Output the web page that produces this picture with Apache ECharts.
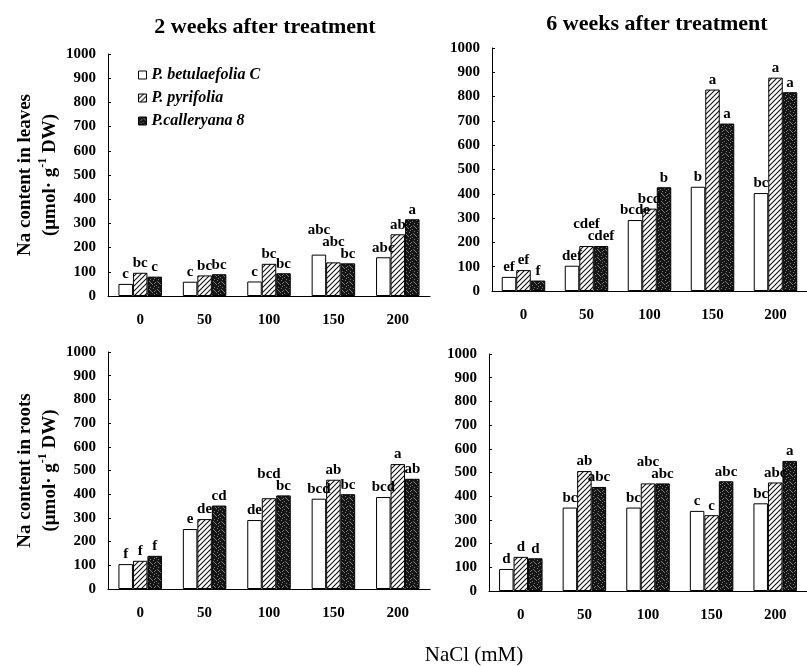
<!DOCTYPE html>
<html>
<head>
<meta charset="utf-8">
<script src="https://cdn.jsdelivr.net/npm/echarts@6/dist/echarts.min.js"></script>
<style>html,body{margin:0;padding:0;background:#fff}#c{width:807px;height:666px}</style>
</head>
<body>
<div id="c"></div>
<script>
// ---- data ----
const categories = ['0', '50', '100', '150', '200'];
const seriesNames = ['P. betulaefolia C', 'P. pyrifolia', 'P.calleryana 8'];

// 2 weeks, leaves
const leaves2w_betulaefolia = [50, 59, 60, 171, 160];
const leaves2w_pyrifolia    = [96, 85, 133, 139, 255];
const leaves2w_calleryana   = [80, 90, 94, 135, 317];
const leaves2w_letters_bet  = ['c', 'c', 'c', 'abc', 'abc'];
const leaves2w_letters_pyr  = ['bc', 'bc', 'bc', 'abc', 'ab'];
const leaves2w_letters_cal  = ['c', 'bc', 'bc', 'bc', 'a'];

// 6 weeks, leaves
const leaves6w_betulaefolia = [58, 104, 292, 429, 403];
const leaves6w_pyrifolia    = [86, 185, 339, 829, 878];
const leaves6w_calleryana   = [43, 185, 427, 689, 818];
const leaves6w_letters_bet  = ['ef', 'def', 'bcde', 'b', 'bc'];
const leaves6w_letters_pyr  = ['ef', 'cdef', 'bcd', 'a', 'a'];
const leaves6w_letters_cal  = ['f', 'cdef', 'b', 'a', 'a'];

// 2 weeks, roots
const roots2w_betulaefolia = [105, 253, 291, 381, 388];
const roots2w_pyrifolia    = [119, 295, 383, 461, 527];
const roots2w_calleryana   = [140, 352, 395, 400, 465];
const roots2w_letters_bet  = ['f', 'e', 'de', 'bcd', 'bcd'];
const roots2w_letters_pyr  = ['f', 'de', 'bcd', 'ab', 'a'];
const roots2w_letters_cal  = ['f', 'cd', 'bc', 'bc', 'ab'];

// 6 weeks, roots
const roots6w_betulaefolia = [93, 352, 352, 338, 370];
const roots6w_pyrifolia    = [144, 506, 454, 320, 458];
const roots6w_calleryana   = [138, 439, 454, 463, 549];
const roots6w_letters_bet  = ['d', 'bc', 'bc', 'c', 'bc'];
const roots6w_letters_pyr  = ['d', 'ab', 'abc', 'c', 'abc'];
const roots6w_letters_cal  = ['d', 'abc', 'abc', 'abc', 'a'];

// ---- patterns ----
function hatchPattern() {
  const s = 5, c = document.createElement('canvas');
  c.width = s; c.height = s;
  const x = c.getContext('2d');
  x.fillStyle = '#fff'; x.fillRect(0, 0, s, s);
  x.strokeStyle = '#111'; x.lineWidth = 1.1;
  x.beginPath();
  x.moveTo(-1, s + 1); x.lineTo(s + 1, -1);
  x.moveTo(-1, 1); x.lineTo(1, -1);
  x.moveTo(s - 1, s + 1); x.lineTo(s + 1, s - 1);
  x.stroke();
  return c;
}
function stipplePattern() {
  const s = 8, c = document.createElement('canvas');
  c.width = s; c.height = s;
  const x = c.getContext('2d');
  x.fillStyle = '#151515'; x.fillRect(0, 0, s, s);
  x.fillStyle = '#7a7a7a';
  const dots = [[1,0],[5,1],[3,2],[7,3],[0,4],[4,5],[2,6],[6,7],[6,2],[2,3]];
  dots.forEach(d => x.fillRect(d[0], d[1], 1, 1));
  return c;
}
const hatchFill = { image: hatchPattern(), repeat: 'repeat' };
const stippleFill = { image: stipplePattern(), repeat: 'repeat' };
const fills = ['#ffffff', hatchFill, stippleFill];

const serif = 'Liberation Serif, Times New Roman, serif';
const BAR_W = 14.5;
const LABEL_FONT = 'bold 15px ' + serif;

const panels = [
  { grid: { left: 108, top: 54, width: 322, height: 242 },
    values: [leaves2w_betulaefolia, leaves2w_pyrifolia, leaves2w_calleryana],
    letters: [leaves2w_letters_bet, leaves2w_letters_pyr, leaves2w_letters_cal],
    yname: 'leaves' },
  { grid: { left: 492, top: 48, width: 322, height: 243 },
    values: [leaves6w_betulaefolia, leaves6w_pyrifolia, leaves6w_calleryana],
    letters: [leaves6w_letters_bet, leaves6w_letters_pyr, leaves6w_letters_cal],
    yname: null },
  { grid: { left: 108, top: 352, width: 322, height: 237 },
    values: [roots2w_betulaefolia, roots2w_pyrifolia, roots2w_calleryana],
    letters: [roots2w_letters_bet, roots2w_letters_pyr, roots2w_letters_cal],
    yname: 'roots' },
  { grid: { left: 489, top: 354, width: 323, height: 237 },
    values: [roots6w_betulaefolia, roots6w_pyrifolia, roots6w_calleryana],
    letters: [roots6w_letters_bet, roots6w_letters_pyr, roots6w_letters_cal],
    yname: null }
];

const grids = [], xAxes = [], yAxes = [], series = [];
panels.forEach((p, gi) => {
  grids.push(Object.assign({ containLabel: false }, p.grid));
  xAxes.push({
    type: 'category', gridIndex: gi, data: categories,
    axisLine: { lineStyle: { color: '#000', width: 1 } },
    axisTick: { inside: true, length: 4, alignWithLabel: false, lineStyle: { color: '#000' } },
    axisLabel: { margin: 17, color: '#000', fontFamily: serif, fontWeight: 'bold', fontSize: 15 }
  });
  const y = {
    type: 'value', gridIndex: gi, min: 0, max: 1000, interval: 100,
    axisLine: { show: true, lineStyle: { color: '#000', width: 1 } },
    axisTick: { show: true, inside: true, length: 3, lineStyle: { color: '#000' } },
    splitLine: { show: false },
    axisLabel: { margin: 12, color: '#000', fontFamily: serif, fontWeight: 'bold', fontSize: 15,
                 formatter: v => String(v) }
  };
  if (p.yname) {
    y.name = '{a|Na content in ' + p.yname + '}\n{a|(\u03bcmol\u00b7 g}{s|-1}{a| DW)}';
    y.nameLocation = 'middle';
    y.nameRotate = 90;
    y.nameGap = 41;
    y.nameTextStyle = {
      color: '#000', fontFamily: serif, fontWeight: 'bold', fontSize: 19, lineHeight: 25,
      rich: {
        a: { fontFamily: serif, fontWeight: 'bold', fontSize: 19, lineHeight: 25, color: '#000' },
        s: { fontFamily: serif, fontWeight: 'bold', fontSize: 12, lineHeight: 25, verticalAlign: 'top', color: '#000', padding: [0, 0, 8, 0] }
      }
    };
  }
  yAxes.push(y);
  for (let k = 0; k < 3; k++) {
    const lt = p.letters[k];
    series.push({
      type: 'bar', name: seriesNames[k], xAxisIndex: gi, yAxisIndex: gi,
      data: p.values[k].slice(), barWidth: BAR_W, barGap: '0%',
      itemStyle: { color: fills[k], borderColor: '#000', borderWidth: 1 },
      label: {
        show: true, position: 'top', distance: 2, color: '#000',
        fontFamily: serif, fontWeight: 'bold', fontSize: 15,
        formatter: (pp) => lt[pp.dataIndex]
      },
      emphasis: { disabled: true },
      animation: false
    });
  }
});

const chart = echarts.init(document.getElementById('c'));
chart.setOption({
  backgroundColor: '#fff',
  animation: false,
  title: [
    { text: '2 weeks after treatment', left: 260, top: 11, textAlign: 'center',
      textStyle: { fontFamily: serif, fontWeight: 'bold', fontSize: 22, color: '#000' } },
    { text: '6 weeks after treatment', left: 652, top: 8, textAlign: 'center',
      textStyle: { fontFamily: serif, fontWeight: 'bold', fontSize: 22, color: '#000' } },
    { text: 'NaCl (mM)', left: 469, top: 640, textAlign: 'center',
      textStyle: { fontFamily: serif, fontWeight: 'normal', fontSize: 21, color: '#000' } }
  ],
  legend: {
    data: seriesNames, orient: 'vertical', left: 133, top: 62,
    itemWidth: 8, itemHeight: 8, itemGap: 7, icon: 'rect',
    itemStyle: { borderColor: '#000', borderWidth: 1 },
    textStyle: { fontFamily: serif, fontWeight: 'bold', fontStyle: 'italic', fontSize: 16, lineHeight: 16, color: '#000' },
    selectedMode: false
  },
  grid: grids, xAxis: xAxes, yAxis: yAxes, series: series
});

// ---- stagger overlapping significance letters (as in the reference) ----
const mctx = document.createElement('canvas').getContext('2d');
mctx.font = LABEL_FONT;
const INK_H = 11;
const newSeries = series.map(s => ({ data: s.data.map(v => ({ value: v })) }));
panels.forEach((p, gi) => {
  categories.forEach((cat, i) => {
    const placed = [];
    for (let k = 2; k >= 0; k--) {
      const pt = chart.convertToPixel({ gridIndex: gi }, [i, p.values[k][i]]);
      const xc = pt[0] + (k - 1) * BAR_W;
      const w = mctx.measureText(p.letters[k][i]).width;
      const base = pt[1] - 4;
      let bottom = base;
      let moved = true;
      while (moved) {
        moved = false;
        for (const q of placed) {
          const hOver = Math.abs(xc - q.xc) < (w + q.w) / 2 - 1;
          const vOver = bottom > q.bottom - INK_H && bottom - INK_H < q.bottom;
          if (hOver && vOver) { bottom = q.bottom - INK_H - 1; moved = true; }
        }
      }
      placed.push({ xc, w, bottom });
      const dy = bottom - base;
      if (dy !== 0) {
        newSeries[gi * 3 + k].data[i].label = { offset: [0, dy] };
      }
    }
  });
});
chart.setOption({ series: newSeries });
</script>
</body>
</html>
